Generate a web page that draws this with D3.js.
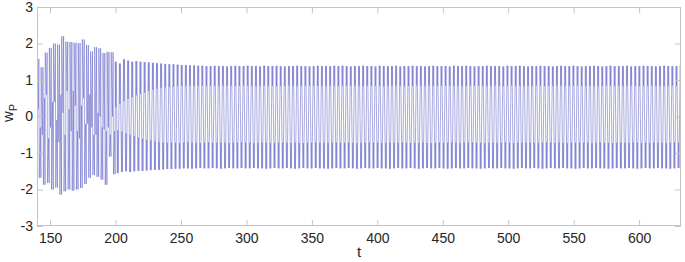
<!DOCTYPE html>
<html lang="en">
<head>
<meta charset="UTF-8"/>
<title>w_P against t</title>
<script src="https://d3js.org/d3.v7.min.js"></script>
<style>
    body { margin: 0; background: white; }
    text { font-family: "Liberation Sans", Arial, sans-serif; }
</style>
</head>
<body>
<script>
// record runs from t = 140 to the right edge, one oscillation every ~3.15 time units
var tStart = 140;
var tEnd = 632;
var period = 3.15;
var earlyCycles = 19;   // irregular start-up before the motion settles (t < ~200)

// turning levels read cycle by cycle: upper peak, notch under it, lower peak, bump above it
var hiPeak = [
    1.58, 1.35, 1.75, 1.88, 2.00, 1.97, 2.20, 2.05, 2.04, 2.02, 2.01, 2.11, 1.96, 1.78, 1.90, 1.87,
    1.74, 1.77, 1.76, 1.50, 1.45, 1.57, 1.53, 1.50, 1.52, 1.50, 1.49, 1.48, 1.47, 1.46, 1.45,
    1.44, 1.43, 1.43, 1.42, 1.41, 1.41, 1.40, 1.40, 1.39, 1.39, 1.38, 1.38, 1.39, 1.38, 1.38, 1.37, 1.38, 1.39, 1.38, 1.38, 1.39,
    1.38, 1.38, 1.37, 1.39, 1.38, 1.38, 1.39, 1.38, 1.37, 1.38, 1.38, 1.39, 1.38, 1.38, 1.37, 1.38, 1.39, 1.38, 1.38, 1.38, 1.39,
    1.38, 1.39, 1.38, 1.37, 1.38, 1.38, 1.39, 1.38, 1.38, 1.37, 1.39, 1.38, 1.38, 1.38, 1.39, 1.37, 1.38, 1.38, 1.39, 1.38, 1.38,
    1.37, 1.38, 1.39, 1.38, 1.38, 1.38, 1.37, 1.39, 1.38, 1.38, 1.39, 1.38, 1.37, 1.38, 1.38, 1.39, 1.38, 1.38, 1.38, 1.37, 1.39,
    1.38, 1.38, 1.39, 1.38, 1.37, 1.38, 1.38, 1.39, 1.38, 1.38, 1.37, 1.38, 1.39, 1.38, 1.38, 1.39, 1.38, 1.37, 1.38, 1.38, 1.39,
    1.38, 1.37, 1.38, 1.39, 1.38, 1.38, 1.38, 1.39, 1.37, 1.38, 1.38, 1.39, 1.38, 1.38, 1.37, 1.38, 1.39, 1.38, 1.38, 1.38, 1.39
];
var hiDip = [
    0.20, -0.50, 0.60, -0.30, 0.40, -0.70, 0.10, 0.70, -0.40, 0.30, -0.60, 0.50, -0.20, -0.30, -0.50, 0.00,
    -0.35, -0.30, 0.00, 0.25, 0.35, 0.42, 0.48, 0.53, 0.58, 0.62, 0.66, 0.70, 0.73, 0.76, 0.78,
    0.80, 0.81, 0.82, 0.83, 0.84, 0.85, 0.84, 0.83, 0.84, 0.85, 0.84, 0.84, 0.83, 0.84, 0.85, 0.84, 0.84, 0.83, 0.84, 0.85, 0.84,
    0.84, 0.83, 0.84, 0.85, 0.84, 0.84, 0.83, 0.84, 0.84, 0.85, 0.84, 0.83, 0.84, 0.84, 0.85, 0.84, 0.84, 0.83, 0.84, 0.85, 0.84,
    0.83, 0.84, 0.84, 0.85, 0.84, 0.84, 0.83, 0.84, 0.85, 0.84, 0.84, 0.83, 0.84, 0.84, 0.85, 0.84, 0.83, 0.84, 0.84, 0.85, 0.84,
    0.84, 0.85, 0.84, 0.83, 0.84, 0.84, 0.85, 0.84, 0.84, 0.83, 0.84, 0.85, 0.84, 0.84, 0.83, 0.84, 0.84, 0.85, 0.84, 0.83, 0.84,
    0.85, 0.84, 0.84, 0.83, 0.84, 0.84, 0.85, 0.84, 0.83, 0.84, 0.84, 0.85, 0.84, 0.84, 0.83, 0.84, 0.85, 0.84, 0.84, 0.84, 0.83,
    0.84, 0.84, 0.85, 0.84, 0.83, 0.84, 0.84, 0.85, 0.84, 0.84, 0.83, 0.84, 0.84, 0.85, 0.84, 0.84, 0.83, 0.84, 0.85, 0.84, 0.84
];
var loPeak = [
    -1.68, -1.87, -1.82, -2.00, -1.95, -2.14, -2.05, -2.00, -2.03, -2.00, -1.96, -1.85, -1.68, -1.60, -1.65, -1.73,
    -1.87, -1.10, -1.58, -1.55, -1.52, -1.50, -1.52, -1.50, -1.49, -1.49, -1.48, -1.47, -1.46, -1.46, -1.45,
    -1.44, -1.44, -1.43, -1.43, -1.42, -1.42, -1.43, -1.42, -1.41, -1.42, -1.42, -1.41, -1.42, -1.43, -1.42, -1.41, -1.42, -1.42, -1.41, -1.42, -1.42,
    -1.41, -1.42, -1.42, -1.43, -1.42, -1.41, -1.42, -1.42, -1.41, -1.42, -1.43, -1.42, -1.41, -1.42, -1.42, -1.41, -1.42, -1.42, -1.43, -1.42, -1.41,
    -1.42, -1.42, -1.41, -1.42, -1.43, -1.42, -1.41, -1.42, -1.42, -1.41, -1.42, -1.42, -1.43, -1.42, -1.41, -1.42, -1.42, -1.41, -1.42, -1.43, -1.42,
    -1.41, -1.42, -1.42, -1.41, -1.42, -1.43, -1.42, -1.41, -1.42, -1.42, -1.41, -1.42, -1.42, -1.43, -1.42, -1.41, -1.42, -1.42, -1.41, -1.42, -1.42,
    -1.43, -1.42, -1.41, -1.42, -1.42, -1.41, -1.42, -1.43, -1.42, -1.41, -1.42, -1.42, -1.41, -1.42, -1.42, -1.43, -1.42, -1.41, -1.42, -1.42, -1.41,
    -1.42, -1.42, -1.43, -1.42, -1.41, -1.42, -1.42, -1.41, -1.42, -1.43, -1.42, -1.41, -1.42, -1.42, -1.41, -1.42, -1.42, -1.43, -1.42, -1.41, -1.42
];
var loDip = [
    -0.30, 0.50, -0.60, 0.40, -0.10, 0.60, -0.50, 0.20, 0.70, -0.40, 0.30, -0.20, 0.60, -0.50, 0.10, -0.30,
    -0.40, -0.50, -0.40, -0.38, -0.42, -0.46, -0.50, -0.54, -0.58, -0.61, -0.64, -0.66, -0.68, -0.70, -0.71,
    -0.72, -0.71, -0.72, -0.73, -0.72, -0.71, -0.72, -0.72, -0.73, -0.72, -0.71, -0.72, -0.72, -0.71, -0.72, -0.73, -0.72, -0.72, -0.71, -0.72, -0.72,
    -0.73, -0.72, -0.71, -0.72, -0.72, -0.73, -0.72, -0.71, -0.72, -0.72, -0.71, -0.72, -0.73, -0.72, -0.72, -0.71, -0.72, -0.72, -0.73, -0.72, -0.71,
    -0.72, -0.72, -0.71, -0.72, -0.73, -0.72, -0.72, -0.71, -0.72, -0.72, -0.73, -0.72, -0.71, -0.72, -0.72, -0.71, -0.72, -0.73, -0.72, -0.72, -0.71,
    -0.72, -0.73, -0.72, -0.71, -0.72, -0.72, -0.71, -0.72, -0.73, -0.72, -0.72, -0.71, -0.72, -0.72, -0.73, -0.72, -0.71, -0.72, -0.72, -0.71, -0.72,
    -0.73, -0.72, -0.72, -0.71, -0.72, -0.72, -0.73, -0.72, -0.71, -0.72, -0.72, -0.71, -0.72, -0.73, -0.72, -0.72, -0.71, -0.72, -0.72, -0.73, -0.72,
    -0.71, -0.72, -0.72, -0.73, -0.72, -0.71, -0.72, -0.72, -0.71, -0.72, -0.73, -0.72, -0.72, -0.71, -0.72, -0.72, -0.73, -0.72, -0.71, -0.72, -0.72
];
// where in each cycle the six turning points fall (start-up cycles are less sharp)
var phaseEarly = [0, 0.3, 0.45, 0.55, 0.8, 0.95];
var phase = [0, 0.1, 0.2, 0.5, 0.6, 0.7];

var xTicks = [150, 200, 250, 300, 350, 400, 450, 500, 550, 600];
var yTicks = [-3, -2, -1, 0, 1, 2, 3];

var w = 685;
var h = 262;
var plotL = 37, plotR = 681, plotT = 7, plotB = 226;

var x = d3.scaleLinear().domain([tStart, tEnd]).range([plotL, plotR]);
var y = d3.scaleLinear().domain([-3, 3]).range([plotB, plotT]);

// unroll the cycles into turning points
var points = [];
for (var i = 0; i < hiPeak.length; i++) {
    var levels = [hiPeak[i], hiDip[i], hiPeak[i], loPeak[i], loDip[i], loPeak[i]];
    var ph = i < earlyCycles ? phaseEarly : phase;
    for (var k = 0; k < levels.length; k++) {
        points.push({t: tStart + (i + ph[k]) * period, v: levels[k]});
    }
}

var svg = d3.select("body")
    .append("svg")
    .attr("width", w)
    .attr("height", h);

svg.append("rect")
    .attr("width", w)
    .attr("height", h)
    .attr("fill", "white");

svg.append("clipPath")
    .attr("id", "plotClip")
    .append("rect")
    .attr("x", plotL)
    .attr("y", plotT)
    .attr("width", plotR - plotL)
    .attr("height", plotB - plotT);

var line = d3.line()
    .x(function(d) { return x(d.t); })
    .y(function(d) { return y(d.v); });

svg.append("path")
    .datum(points)
    .attr("clip-path", "url(#plotClip)")
    .attr("d", line)
    .attr("fill", "none")
    .attr("stroke", "#7070cc")
    .attr("stroke-width", 0.6);

// axes, MATLAB style: ticks pointing in on all four sides
var axisColor = "#c4c4c4";
var textColor = "#262626";
var plain = function(d) { return String(d); };

var gx = svg.append("g")
    .attr("transform", "translate(0," + plotB + ")")
    .call(d3.axisBottom(x).tickValues(xTicks).tickSize(-6).tickSizeOuter(0).tickPadding(7).tickFormat(plain));
var gxTop = svg.append("g")
    .attr("transform", "translate(0," + plotT + ")")
    .call(d3.axisTop(x).tickValues(xTicks).tickSize(-6).tickSizeOuter(0).tickFormat(""));
var gy = svg.append("g")
    .attr("transform", "translate(" + plotL + ",0)")
    .call(d3.axisLeft(y).tickValues(yTicks).tickSize(-6).tickSizeOuter(0).tickPadding(4).tickFormat(plain));
var gyRight = svg.append("g")
    .attr("transform", "translate(" + plotR + ",0)")
    .call(d3.axisRight(y).tickValues(yTicks).tickSize(-6).tickSizeOuter(0).tickFormat(""));

[gx, gxTop, gy, gyRight].forEach(function(g) {
    g.select(".domain").remove();
    g.selectAll(".tick line").attr("stroke", axisColor);
    g.selectAll(".tick text")
        .attr("fill", textColor)
        .style("font-size", "14px")
        .style("font-family", "'Liberation Sans', Arial, sans-serif");
});

svg.append("rect")
    .attr("x", plotL + 0.5)
    .attr("y", plotT + 0.5)
    .attr("width", plotR - plotL - 1)
    .attr("height", plotB - plotT - 1)
    .attr("fill", "none")
    .attr("stroke", axisColor);

svg.append("text")
    .attr("x", (plotL + plotR) / 2)
    .attr("y", 257)
    .attr("text-anchor", "middle")
    .attr("fill", textColor)
    .style("font-size", "15px")
    .text("t");

var ylab = svg.append("text")
    .attr("transform", "translate(13,113) rotate(-90)")
    .attr("text-anchor", "middle")
    .attr("fill", textColor)
    .style("font-size", "15px");
ylab.append("tspan").text("w");
ylab.append("tspan")
    .attr("dy", 4)
    .style("font-size", "11px")
    .text("P");
</script>
</body>
</html>
